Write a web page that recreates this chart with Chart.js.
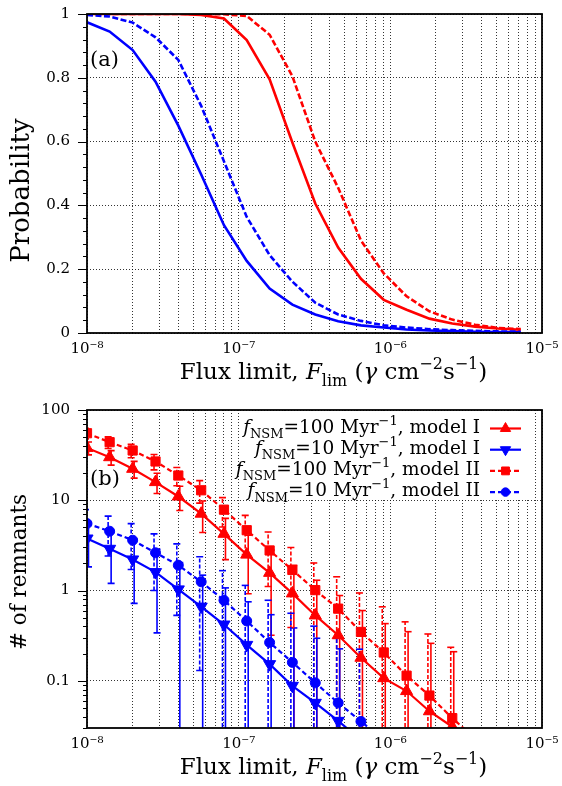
<!DOCTYPE html>
<html><head><meta charset="utf-8">
<script src="https://cdn.jsdelivr.net/npm/chart.js@4/dist/chart.umd.min.js"></script>
<style>
html,body{margin:0;padding:0;background:#fff;}
#wrap{position:relative;width:562px;height:786px;background:#fff;}
canvas{position:absolute;left:0;}
</style></head>
<body><div id="wrap">
<canvas id="topChart" width="562" height="393" style="top:0px"></canvas>
<canvas id="botChart" width="562" height="393" style="top:393px"></canvas>
</div>
<script>
// ---------- data ----------
const fluxLimits = [1.0e-8, 1.41e-8, 2.0e-8, 2.83e-8, 4.0e-8, 5.66e-8, 8.0e-8, 1.13e-7, 1.6e-7, 2.26e-7,
                    3.2e-7, 4.53e-7, 6.4e-7, 9.05e-7, 1.28e-6, 1.81e-6, 2.56e-6, 3.62e-6, 5.12e-6, 7.24e-6];

// panel (a): probability
const probRed100ModelI  = [1.0, 1.0, 1.0, 1.0, 1.0, 0.997, 0.986, 0.918, 0.795, 0.597, 0.406, 0.268, 0.17, 0.104, 0.073, 0.045, 0.030, 0.020, 0.014, 0.010];
const probRed100ModelII = [1.0, 1.0, 1.0, 1.0, 1.0, 1.0, 0.999, 0.994, 0.935, 0.805, 0.60, 0.455, 0.29, 0.187, 0.115, 0.068, 0.042, 0.026, 0.016, 0.012];
const probBlue10ModelI  = [0.974, 0.945, 0.887, 0.788, 0.65, 0.497, 0.338, 0.226, 0.139, 0.089, 0.058, 0.037, 0.024, 0.017, 0.011, 0.008, 0.006, 0.004, 0.003, 0.002];
const probBlue10ModelII = [0.997, 0.992, 0.973, 0.927, 0.856, 0.712, 0.538, 0.364, 0.244, 0.161, 0.095, 0.058, 0.038, 0.024, 0.017, 0.012, 0.009, 0.007, 0.005, 0.004];

// panel (b): number of remnants with error bars (0 = bar reaches zero)
const remRed100ModelI   = [38, 30, 22.3, 15.9, 11.0, 7.1, 4.25, 2.5, 1.57, 0.93, 0.53, 0.32, 0.18, 0.107, 0.077, 0.046, 0.031];
const remRed100ModelILo = [31.8, 24.5, 17.6, 11.9, 7.7, 4.4, 2.2, 0.92, 0.32, 0, 0, 0, 0, 0, 0, 0, 0];
const remRed100ModelIHi = [44.2, 35.5, 27.0, 19.9, 14.3, 9.8, 6.3, 4.1, 2.8, 1.9, 1.3, 0.88, 0.6, 0.43, 0.35, 0.26, 0.21];

const remRed100ModelII   = [55.3, 44, 35.6, 26.9, 18.8, 12.9, 7.87, 4.66, 2.78, 1.69, 1.01, 0.63, 0.348, 0.206, 0.114, 0.0686, 0.0386, 0.023];
const remRed100ModelIILo = [47.9, 37.4, 29.6, 21.7, 14.5, 9.3, 5.06, 2.5, 1.11, 0.39, 0, 0, 0, 0, 0, 0, 0, null];
const remRed100ModelIIHi = [62.7, 50.6, 41.6, 32.1, 23.1, 16.5, 10.7, 6.8, 4.45, 3.0, 2.02, 1.42, 0.94, 0.66, 0.45, 0.33, 0.235, null];

const remBlue10ModelI   = [3.77, 2.9, 2.21, 1.6, 1.03, 0.664, 0.42, 0.25, 0.153, 0.088, 0.057, 0.036, 0.022];
const remBlue10ModelILo = [1.83, 1.2, 0.72, 0.34, 0, 0, 0, 0, 0, 0, 0, 0, null];
const remBlue10ModelIHi = [5.71, 4.6, 3.7, 2.86, 2.04, 1.48, 1.07, 0.75, 0.54, 0.385, 0.296, 0.226, null];

const remBlue10ModelII   = [5.52, 4.54, 3.61, 2.62, 1.91, 1.25, 0.78, 0.46, 0.266, 0.16, 0.095, 0.057, 0.0355, 0.022];
const remBlue10ModelIILo = [3.17, 2.41, 1.71, 1.0, 0.53, 0.13, 0, 0, 0, 0, 0, 0, 0, null];
const remBlue10ModelIIHi = [7.87, 6.67, 5.51, 4.24, 3.29, 2.37, 1.66, 1.14, 0.78, 0.56, 0.403, 0.296, 0.224, null];

// tick labels
const xTickValues = [1e-8, 1e-7, 1e-6, 1e-5];
const xTickLabels = ['10\u207B\u2078', '10\u207B\u2077', '10\u207B\u2076', '10\u207B\u2075'];
const probTickValues = [0, 0.2, 0.4, 0.6, 0.8, 1];
const probTickLabels = ['0', '0.2', '0.4', '0.6', '0.8', '1'];
const remTickValues = [0.1, 1, 10, 100];
const remTickLabels = ['0.1', '1', '10', '100'];

// text
const probTitle = 'Probability';
const remTitle = '# of remnants';
const legendRates  = ['100', '10', '100', '10'];
const legendModels = ['I', 'I', 'II', 'II'];

// ---------- helpers ----------
const SERIF = '"DejaVu Serif", serif';
const RED = '#ff0000', BLUE = '#0000ff';

function logGrid(min, max) {
  const out = [];
  const e0 = Math.floor(Math.log10(min) + 1e-9), e1 = Math.ceil(Math.log10(max) - 1e-9);
  for (let e = e0; e <= e1; e++) {
    for (let m = 1; m <= 9; m++) {
      const v = m * Math.pow(10, e);
      if (v >= min * (1 - 1e-9) && v <= max * (1 + 1e-9)) out.push(v);
    }
  }
  return out;
}
function findMajor(v, majors) {
  return majors.findIndex(m => Math.abs(v - m) <= 1e-6 * Math.abs(m) + 1e-12);
}

function drawRich(ctx, segs, x, baseY, align, base, small) {
  const fontFor = s => (s.it ? 'italic ' : '') + ((s.sub || s.sup) ? small : base) + 'px ' + SERIF;
  const widths = segs.map(s => { ctx.font = fontFor(s); return ctx.measureText(s.t).width; });
  const w = widths.reduce((a, b) => a + b, 0);
  let cx = align === 'right' ? x - w : (align === 'center' ? x - w / 2 : x);
  ctx.textAlign = 'left';
  ctx.textBaseline = 'alphabetic';
  segs.forEach((s, i) => {
    ctx.font = fontFor(s);
    const dy = s.sub ? base * 0.3 : (s.sup ? -base * 0.42 : 0);
    ctx.fillText(s.t, cx, baseY + dy);
    cx += widths[i];
  });
}

const xTitleSegs = [
  {t: 'Flux limit, '}, {t: 'F', it: true}, {t: 'lim', sub: true}, {t: ' ('}, {t: '\u03B3', it: true},
  {t: ' cm'}, {t: '\u22122', sup: true}, {t: 's'}, {t: '\u22121', sup: true}, {t: ')'}
];

function xScaleOpts(axisH) {
  return {
    type: 'logarithmic', min: 1e-8, max: 1e-5,
    afterBuildTicks: s => { s.ticks = logGrid(1e-8, 1e-5).map(v => ({value: v, major: findMajor(v, xTickValues) >= 0})); },
    afterFit: s => { s.height = axisH; s.paddingLeft = 0; s.paddingRight = 0; s.paddingTop = 0; s.paddingBottom = 0; },
    ticks: {
      autoSkip: false, maxRotation: 0, minRotation: 0, padding: 7, color: '#000',
      font: {family: SERIF, size: 15},
      callback: v => { const i = findMajor(v, xTickValues); return i >= 0 ? xTickLabels[i] : ''; }
    },
    grid: {color: '#000', lineWidth: 0.8, drawTicks: false},
    border: {display: false, dash: [1, 2]},
    title: {display: false}
  };
}
function yFit(s) { s.width = 87; s.paddingTop = 0; s.paddingBottom = 0; s.paddingLeft = 0; s.paddingRight = 0; }

// cfg: panel label, y title, y-title geometry, minor y tick values, flags
function makeDecor(cfg) {
  return {
    id: 'decor',
    beforeDatasetsDraw(chart) {
      if (!cfg.errorBars) return;
      const {ctx, chartArea: a} = chart;
      const xs = chart.scales.x, ys = chart.scales.y;
      ctx.save();
      ctx.beginPath(); ctx.rect(a.left, a.top, a.right - a.left, a.bottom - a.top); ctx.clip();
      chart.data.datasets.forEach(ds => {
        ctx.strokeStyle = ds.borderColor;
        ctx.lineWidth = 1.6;
        ds.errLow.forEach((lo, i) => {
          const hi = ds.errHigh[i];
          if (hi == null || lo == null) return;
          const x = xs.getPixelForValue(ds.data[i].x) + ds.errOffset;
          const yHi = ys.getPixelForValue(hi);
          const yLo = lo > 0 ? ys.getPixelForValue(lo) : a.bottom + 5;
          ctx.setLineDash(ds.errDash);
          ctx.beginPath(); ctx.moveTo(x, yLo); ctx.lineTo(x, yHi); ctx.stroke();
          ctx.setLineDash([]);
          ctx.beginPath();
          ctx.moveTo(x - 3.5, yHi); ctx.lineTo(x + 3.5, yHi);
          if (lo > 0) { ctx.moveTo(x - 3.5, yLo); ctx.lineTo(x + 3.5, yLo); }
          ctx.stroke();
        });
      });
      ctx.restore();
    },
    afterDatasetsDraw(chart) {
      const {ctx, chartArea: a} = chart;
      const ys = chart.scales.y;
      ctx.save();
      // legend (panel b)
      if (cfg.legend) {
        ctx.fillStyle = '#fff';
        ctx.fillRect(a.left + 154, a.top + 3, (a.right - 11) - (a.left + 154), 87);
        chart.data.datasets.forEach((ds, i) => {
          const y = a.top + 18.5 + i * 21.2;
          ctx.fillStyle = '#000';
          drawRich(ctx, [
            {t: 'f', it: true}, {t: 'NSM', sub: true}, {t: '=' + legendRates[i] + ' Myr'},
            {t: '\u22121', sup: true}, {t: ', model ' + legendModels[i]}
          ], a.left + 393, y + 4, 'right', 18.5, 13);
          ctx.strokeStyle = ds.borderColor; ctx.lineWidth = ds.borderWidth;
          ctx.setLineDash(ds.borderDash || []);
          ctx.beginPath(); ctx.moveTo(a.left + 403, y); ctx.lineTo(a.left + 434, y); ctx.stroke();
          ctx.setLineDash([]);
          ctx.fillStyle = ds.pointBackgroundColor; ctx.strokeStyle = ds.borderColor; ctx.lineWidth = 1;
          Chart.helpers.drawPoint(ctx, {pointStyle: ds.pointStyle, radius: ds.pointRadius * 0.85, rotation: ds.pointRotation || 0, borderWidth: 1},
            a.left + 418.5, y);
        });
      }
      // panel label
      ctx.fillStyle = '#000';
      ctx.font = '21px ' + SERIF;
      ctx.textAlign = 'left'; ctx.textBaseline = 'middle';
      ctx.fillText(cfg.panel, a.left + 3, a.top + cfg.panelDy);
      // outward ticks on the left axis
      ctx.strokeStyle = '#000'; ctx.lineWidth = 1;
      ctx.beginPath();
      ys.ticks.forEach(t => {
        const py = Math.round(ys.getPixelForValue(t.value)) + 0.5;
        const len = t.major ? 9 : 4;
        ctx.moveTo(a.left, py); ctx.lineTo(a.left - len, py);
      });
      (cfg.yMinor || []).forEach(v => {
        const py = Math.round(ys.getPixelForValue(v)) + 0.5;
        ctx.moveTo(a.left, py); ctx.lineTo(a.left - 4, py);
      });
      ctx.stroke();
      // frame
      ctx.lineWidth = 1.8;
      ctx.strokeRect(a.left, a.top, a.right - a.left, a.bottom - a.top);
      // x axis title
      ctx.fillStyle = '#000';
      drawRich(ctx, xTitleSegs, (a.left + a.right) / 2 + 19, a.bottom + 46, 'center', 23, 16);
      // y axis title
      ctx.save();
      ctx.translate(a.left + cfg.yTitleDx, a.top + cfg.yTitleDy);
      ctx.rotate(-Math.PI / 2);
      ctx.font = cfg.yTitleSize + 'px ' + SERIF;
      ctx.textAlign = 'center'; ctx.textBaseline = 'middle';
      ctx.fillText(cfg.yTitle, 0, 0);
      ctx.restore();
      ctx.restore();
    }
  };
}

function lineSet(arr, color, dash) {
  return {
    data: arr.map((y, i) => ({x: fluxLimits[i], y})),
    borderColor: color, backgroundColor: color, borderWidth: 2.6, borderDash: dash,
    pointRadius: 0, tension: 0, fill: false
  };
}
function remSet(arr, lo, hi, color, dash, style, radius, rot, offset) {
  return {
    data: arr.map((y, i) => ({x: fluxLimits[i], y})),
    errLow: lo, errHigh: hi, errDash: dash.length ? [4, 2] : [], errOffset: offset,
    borderColor: color, backgroundColor: color, pointBackgroundColor: color, pointBorderColor: color,
    borderWidth: 2.2, borderDash: dash, pointStyle: style, pointRadius: radius, pointRotation: rot,
    pointBorderWidth: 1, tension: 0, fill: false
  };
}

function baseOptions(padTop) {
  return {
    responsive: false, animation: false, devicePixelRatio: 1,
    plugins: {legend: {display: false}, tooltip: {enabled: false}},
    events: [],
    layout: {autoPadding: false, padding: {top: padTop, right: 20, bottom: 0, left: 0}}
  };
}

// minor ticks of the probability axis
const probMinor = [];
for (let k = 1; k < 25; k++) if (k % 5) probMinor.push(k * 0.04);

// ---------- panel (a) ----------
new Chart(document.getElementById('topChart'), {
  type: 'line',
  data: {datasets: [
    lineSet(probBlue10ModelI, BLUE, []),
    lineSet(probBlue10ModelII, BLUE, [6, 2.5]),
    lineSet(probRed100ModelI, RED, []),
    lineSet(probRed100ModelII, RED, [6, 2.5])
  ]},
  options: Object.assign(baseOptions(14), {
    scales: {
      x: xScaleOpts(60),
      y: {
        type: 'linear', min: 0, max: 1,
        afterBuildTicks: s => { s.ticks = probTickValues.map(v => ({value: v, major: true})); },
        afterFit: yFit,
        ticks: {padding: 17, color: '#000', font: {family: SERIF, size: 15},
          callback: v => { const i = findMajor(v, probTickValues); return i >= 0 ? probTickLabels[i] : ''; }},
        grid: {color: '#000', lineWidth: 0.8, drawTicks: false},
        border: {display: false, dash: [1, 2]},
        title: {display: false}
      }
    }
  }),
  plugins: [makeDecor({panel: '(a)', panelDy: 47, yTitle: probTitle, yTitleSize: 26, yTitleDx: -64.5, yTitleDy: 176.5, yMinor: probMinor})]
});

// ---------- panel (b) ----------
new Chart(document.getElementById('botChart'), {
  type: 'line',
  data: {datasets: [
    remSet(remRed100ModelI, remRed100ModelILo, remRed100ModelIHi, RED, [], 'triangle', 7, 0, 1.5),
    remSet(remBlue10ModelI, remBlue10ModelILo, remBlue10ModelIHi, BLUE, [], 'triangle', 7, 180, 1.5),
    remSet(remRed100ModelII, remRed100ModelIILo, remRed100ModelIIHi, RED, [5, 3], 'rect', 6.5, 0, -1.5),
    remSet(remBlue10ModelII, remBlue10ModelIILo, remBlue10ModelIIHi, BLUE, [5, 3], 'circle', 5, 0, -1.5)
  ]},
  options: Object.assign(baseOptions(17), {
    scales: {
      x: xScaleOpts(58),
      y: {
        type: 'logarithmic', min: 0.03, max: 100,
        afterBuildTicks: s => { s.ticks = logGrid(0.03, 100).map(v => ({value: v, major: findMajor(v, remTickValues) >= 0})); },
        afterFit: yFit,
        ticks: {autoSkip: false, padding: 17, color: '#000', font: {family: SERIF, size: 15},
          callback: v => { const i = findMajor(v, remTickValues); return i >= 0 ? remTickLabels[i] : ''; }},
        grid: {drawTicks: false, lineWidth: 0.8,
          color: c => (c.tick && findMajor(c.tick.value, remTickValues) >= 0) ? '#000' : 'rgba(0,0,0,0)'},
        border: {display: false, dash: [1, 2]},
        title: {display: false}
      }
    }
  }),
  plugins: [makeDecor({panel: '(b)', panelDy: 70, yTitle: remTitle, yTitleSize: 21.5, yTitleDx: -67, yTitleDy: 162, errorBars: true, legend: true})]
});
</script>
</body></html>
